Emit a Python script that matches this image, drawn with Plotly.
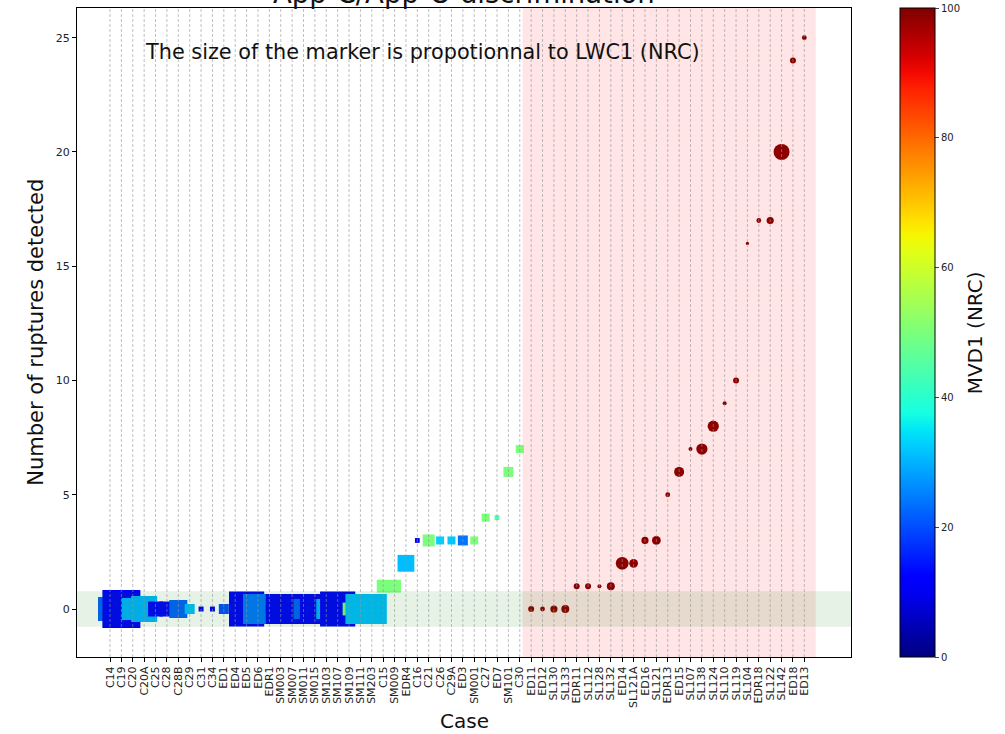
import numpy as np
import plotly.graph_objects as go

# ---------------- data ----------------
cases = ["C14", "C19", "C20", "C20A", "C25", "C28", "C28B", "C29", "C31", "C34",
         "ED1", "ED4", "ED5", "ED6", "EDR1", "SM003", "SM007", "SM011", "SM015", "SM103",
         "SM107", "SM109", "SM111", "SM203", "C15", "SM009", "EDR4", "C16", "C21", "C26",
         "C29A", "ED3", "SM001", "C27", "ED7", "SM101", "C30",
         "ED11", "ED12", "SL130", "SL133", "EDR11", "SL112", "SL128", "SL132", "ED14",
         "SL121A", "ED16", "SL121", "EDR13", "ED15", "SL107", "SL138", "SL124", "SL110",
         "SL119", "SL104", "EDR18", "SL122", "SL142", "ED18", "ED13"]

ruptures = [0, 0, 0, 0, 0, 0, 0, 0, 0, 0,
            0, 0, 0, 0, 0, 0, 0, 0, 0, 0,
            0, 0, 0, 0, 1, 1, 2, 3, 3, 3,
            3, 3, 3, 4, 4, 6, 7,
            0, 0, 0, 0, 1, 1, 1, 1, 2,
            2, 3, 3, 5, 6, 7, 7, 8, 9,
            10, 16, 17, 17, 20, 24, 25]

mvd1 = [22, 11, 30, 30, 12, 12, 22, 31, 10, 10,
        20, 11, 11, 24, 11, 11, 11, 22, 11, 30,
        11, 50, 31, 31, 50, 50, 31, 10, 50, 33,
        32, 24, 50, 50, 44, 50, 50,
        100, 100, 100, 100, 100, 100, 100, 100, 100,
        100, 100, 100, 100, 100, 100, 100, 100, 100,
        100, 100, 100, 100, 100, 100, 100]

lwc1 = [0.60, 0.95, 0.55, 0.65, 0.375, 0.375, 0.45, 0.25, 0.125, 0.125,
        0.25, 0.18, 0.88, 0.75, 0.18, 0.75, 0.75, 0.50, 0.75, 0.50,
        0.88, 0.32, 0.75, 0.75, 0.32, 0.32, 0.42, 0.12, 0.30, 0.20,
        0.20, 0.25, 0.20, 0.20, 0.12, 0.25, 0.20,
        0.15, 0.12, 0.18, 0.20, 0.15, 0.15, 0.10, 0.20, 0.32,
        0.22, 0.18, 0.22, 0.12, 0.25, 0.10, 0.28, 0.28, 0.10,
        0.15, 0.08, 0.12, 0.18, 0.40, 0.15, 0.12]

category = ["App-C"] * 37 + ["App-O"] * 25

# ---------------- styling ----------------
SIZE_SCALE = 40.0
FONT = "DejaVu Sans"


def jet(t):
    r = np.interp(t, [0, 0.35, 0.66, 0.89, 1], [0, 0, 1, 1, 0.5])
    g = np.interp(t, [0, 0.125, 0.375, 0.64, 0.91, 1], [0, 0, 1, 1, 0, 0])
    b = np.interp(t, [0, 0.11, 0.34, 0.65, 1], [0.5, 1, 1, 0, 0])
    return f"rgb({int(round(r*255))},{int(round(g*255))},{int(round(b*255))})"


jet_scale = [[float(t), jet(t)] for t in np.linspace(0, 1, 41)]

sizes = [v * SIZE_SCALE for v in lwc1]
symbols = ["square" if c == "App-C" else "circle" for c in category]

fig = go.Figure()
fig.add_trace(go.Scatter(
    x=cases, y=ruptures, mode="markers",
    marker=dict(size=sizes, symbol=symbols, color=mvd1, coloraxis="coloraxis",
                opacity=1, line=dict(width=0)),
    showlegend=False,
))

# background spans (translucent, drawn over the markers like the original)
fig.add_shape(type="rect", xref="x", yref="paper", x0=36.25, x1=62.0, y0=0, y1=1,
              fillcolor="rgba(255,0,0,0.1)", line_width=0, layer="above")
fig.add_shape(type="rect", xref="paper", yref="y", x0=0, x1=1, y0=-0.78, y1=0.78,
              fillcolor="rgba(0,128,0,0.1)", line_width=0, layer="above")

# dashed vertical grid on top
for c in cases:
    fig.add_shape(type="line", xref="x", yref="paper", x0=c, x1=c, y0=0, y1=1,
                  line=dict(color="rgba(150,150,150,0.75)", width=0.8, dash="3px,2px"),
                  layer="above")

fig.update_layout(
    width=1005, height=734,
    margin=dict(l=77, r=154, t=8, b=77, autoexpand=False),
    paper_bgcolor="white", plot_bgcolor="white",
    font=dict(family=FONT, color="#222"),
    coloraxis=dict(
        colorscale=jet_scale, cmin=0, cmax=100,
        colorbar=dict(
            x=1.063, xanchor="left", xpad=0, ypad=0,
            y=0.5, yanchor="middle", len=1, lenmode="fraction",
            thickness=35, outlinewidth=1, outlinecolor="black",
            tickvals=[0, 20, 40, 60, 80, 100], ticks="outside", ticklen=4,
            tickfont=dict(size=10, family=FONT, color="#222"),
        ),
    ),
    xaxis=dict(
        categoryorder="array", categoryarray=cases,
        tickmode="array", tickvals=cases, ticktext=cases,
        range=[-2.9, 65.1], showgrid=False, zeroline=False, automargin=False,
        showline=True, linecolor="black", linewidth=1, mirror=True,
        ticks="outside", ticklen=4, tickcolor="black", tickangle=-90,
        tickfont=dict(size=11, family=FONT, color="#222"),
    ),
    yaxis=dict(
        range=[-2.1, 26.3], tickvals=[0, 5, 10, 15, 20, 25],
        showgrid=False, zeroline=False, automargin=False,
        showline=True, linecolor="black", linewidth=1, mirror=True,
        ticks="outside", ticklen=4, tickcolor="black",
        tickfont=dict(size=11, family=FONT, color="#222"),
    ),
    annotations=[
        dict(text="App-C/App-O discrimination", xref="paper", yref="paper",
             x=0.5, y=1, xanchor="center", yanchor="bottom", yshift=-3,
             showarrow=False, font=dict(size=27.5, family=FONT, color="#111")),
        dict(text="The size of the marker is propotionnal to LWC1 (NRC)",
             xref="paper", yref="paper", x=0.447, y=0.932,
             xanchor="center", yanchor="middle", showarrow=False,
             font=dict(size=20.8, family=FONT, color="#111")),
        dict(text="Number of ruptures detected", xref="paper", yref="paper",
             x=-0.054, y=0.5, xanchor="center", yanchor="middle", textangle=-90,
             showarrow=False, font=dict(size=21, family=FONT, color="#111")),
        dict(text="Case", xref="paper", yref="paper",
             x=0.5, y=-0.099, xanchor="center", yanchor="middle",
             showarrow=False, font=dict(size=20, family=FONT, color="#111")),
        dict(text="MVD1 (NRC)", xref="paper", yref="paper",
             x=1.160, y=0.5, xanchor="center", yanchor="middle", textangle=-90,
             showarrow=False, font=dict(size=20, family=FONT, color="#111")),
    ],
)

fig.write_html("out.html", config={"displayModeBar": False},
               post_script="document.body.style.margin='0';document.body.style.overflow='hidden';")
